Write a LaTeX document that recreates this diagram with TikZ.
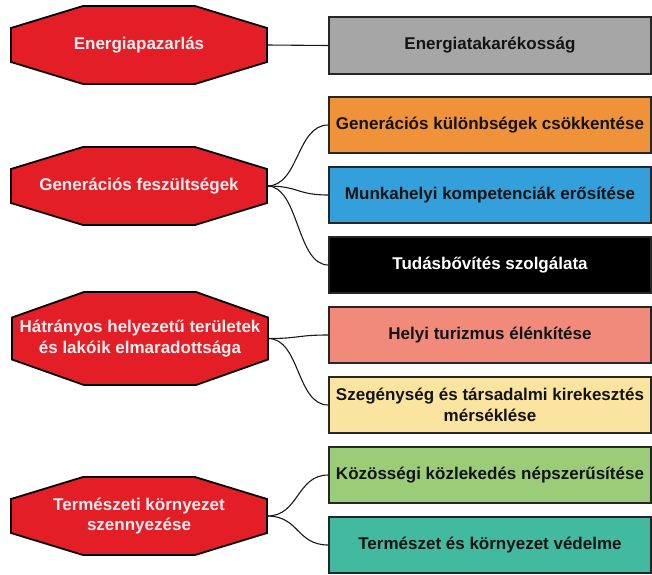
\documentclass[tikz,border=0pt]{standalone}
\usepackage{fontspec}
\setmainfont{Liberation Sans}
\definecolor{octred}{RGB}{228,30,38}
\definecolor{cgray}{RGB}{166,166,166}
\definecolor{corange}{RGB}{240,146,58}
\definecolor{cblue}{RGB}{52,160,219}
\definecolor{csalmon}{RGB}{242,138,124}
\definecolor{cyellow}{RGB}{250,228,160}
\definecolor{cgreen}{RGB}{155,205,120}
\definecolor{cteal}{RGB}{66,186,160}
\definecolor{octtxt}{RGB}{238,238,238}
\newcommand\octshape[4]{%
  \filldraw[octstyle, shift={(#1,#2)}] (-128,-#4) -- (-56,-#3) -- (56,-#3) -- (128,-#4)
    -- (128,#4) -- (56,#3) -- (-56,#3) -- (-128,#4) -- cycle;}
\begin{document}
\begin{tikzpicture}[x=1pt,y=-1pt,
  octstyle/.style={fill=octred, draw=black, line width=1.8pt, line join=miter},
  octtext/.style={text=octtxt, font=\bfseries\fontsize{17}{20.5}\selectfont, align=center,
    inner sep=0pt, minimum width=256pt},
  box/.style={draw=black!85, line width=1.3pt, minimum width=322pt, minimum height=56pt,
    inner sep=0pt, font=\bfseries\fontsize{17}{20.5}\selectfont, align=center, text=black!92},
  link/.style={line width=1.1pt, black!90}
]
\useasboundingbox (0,0) rectangle (652,574);

% octagons
\octshape{139}{45}{39}{17}
\octshape{139}{186}{39}{17}
\octshape{140}{338.5}{46.5}{21}
\octshape{139}{516}{39}{17}
\node[octtext, minimum height=78pt] (o1) at (139,45) {Energiapazarlás};
\node[octtext, minimum height=78pt] (o2) at (139,186) {Generációs feszültségek};
\node[octtext, minimum height=93pt] (o3) at (140,338.5) {Hátrányos helyezetű területek\\és lakóik elmaradottsága};
\node[octtext, minimum height=78pt] (o4) at (139,516) {Természeti környezet\\szennyezése};

% boxes
\node[box, fill=cgray, minimum height=57pt] (r1) at (490,45.5) {Energiatakarékosság};
\node[box, fill=corange] (r2) at (490,125) {Generációs különbségek csökkentése};
\node[box, fill=cblue] (r3) at (490,195) {Munkahelyi kompetenciák erősítése};
\node[box, fill=black, text=white] (r4) at (490,265) {Tudásbővítés szolgálata};
\node[box, fill=csalmon] (r5) at (490,335) {Helyi turizmus élénkítése};
\node[box, fill=cyellow] (r6) at (490,405) {Szegénység és társadalmi kirekesztés\\mérséklése};
\node[box, fill=cgreen] (r7) at (490,475) {Közösségi közlekedés népszerűsítése};
\node[box, fill=cteal] (r8) at (490,545) {Természet és környezet védelme};

% connectors
\draw[link] (o1.east) -- (r1.west);
\foreach \r in {r2,r3,r4}
  \draw[link] (o2.east) .. controls +(32,0) and +(-32,0) .. (\r.west);
\foreach \r in {r5,r6}
  \draw[link] (o3.east) .. controls +(32,0) and +(-32,0) .. (\r.west);
\foreach \r in {r7,r8}
  \draw[link] (o4.east) .. controls +(32,0) and +(-32,0) .. (\r.west);
\end{tikzpicture}
\end{document}
